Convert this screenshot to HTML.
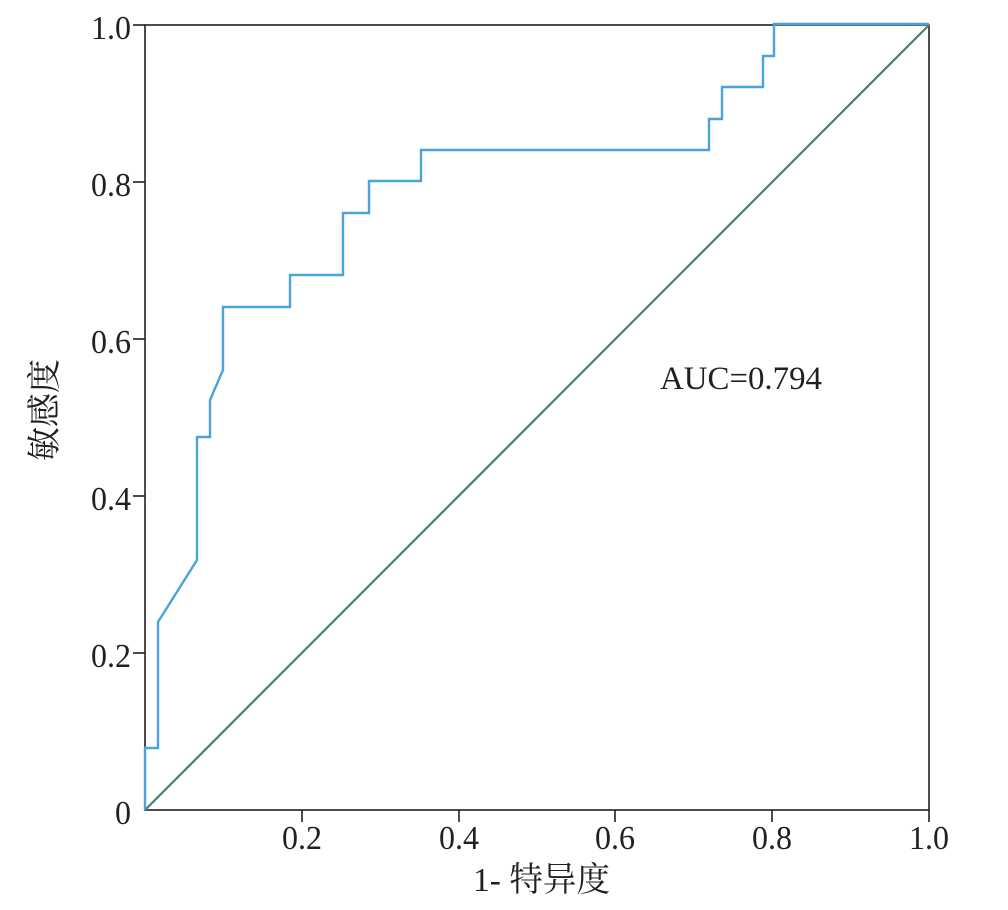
<!DOCTYPE html>
<html><head><meta charset="utf-8"><style>
html,body{margin:0;padding:0;background:#fff;}
svg{display:block;}
text{font-family:"Liberation Serif","Noto Serif CJK SC",serif;fill:#231f20;}
</style></head><body>
<svg width="1008" height="910" viewBox="0 0 1008 910" xmlns="http://www.w3.org/2000/svg">
<rect width="1008" height="910" fill="#fff"/>
<rect x="145" y="25" width="784" height="785" fill="none" stroke="#231f20" stroke-width="1.6"/>
<g stroke="#231f20" stroke-width="1.6">
<line x1="133" y1="25" x2="145" y2="25"/>
<line x1="133" y1="182" x2="145" y2="182"/>
<line x1="133" y1="339" x2="145" y2="339"/>
<line x1="133" y1="496" x2="145" y2="496"/>
<line x1="133" y1="653" x2="145" y2="653"/>
<line x1="302" y1="810" x2="302" y2="822"/>
<line x1="459" y1="810" x2="459" y2="822"/>
<line x1="615" y1="810" x2="615" y2="822"/>
<line x1="772" y1="810" x2="772" y2="822"/>
<line x1="929" y1="810" x2="929" y2="822"/>
</g>
<g font-size="34">
<text x="91" y="39" textLength="40" lengthAdjust="spacingAndGlyphs">1.0</text>
<text x="91" y="196" textLength="40" lengthAdjust="spacingAndGlyphs">0.8</text>
<text x="91" y="353" textLength="40" lengthAdjust="spacingAndGlyphs">0.6</text>
<text x="91" y="510" textLength="40" lengthAdjust="spacingAndGlyphs">0.4</text>
<text x="91" y="667" textLength="40" lengthAdjust="spacingAndGlyphs">0.2</text>
<text x="115" y="824" textLength="16" lengthAdjust="spacingAndGlyphs">0</text>
<text x="282" y="849" textLength="40" lengthAdjust="spacingAndGlyphs">0.2</text>
<text x="439" y="849" textLength="40" lengthAdjust="spacingAndGlyphs">0.4</text>
<text x="595" y="849" textLength="40" lengthAdjust="spacingAndGlyphs">0.6</text>
<text x="752" y="849" textLength="40" lengthAdjust="spacingAndGlyphs">0.8</text>
<text x="909" y="849" textLength="40" lengthAdjust="spacingAndGlyphs">1.0</text>
</g>
<text x="473" y="891" font-size="34" textLength="137" lengthAdjust="spacingAndGlyphs">1- 特异度</text>
<text transform="translate(56,410) rotate(-90)" font-size="34" text-anchor="middle">敏感度</text>
<text x="660" y="389" font-size="33" textLength="162" lengthAdjust="spacingAndGlyphs">AUC=0.794</text>
<line x1="145" y1="810" x2="929" y2="25" stroke="#4a7d78" stroke-width="2.2"/>
<polyline fill="none" stroke="#4aa3dc" stroke-width="2.4" points="145,810 145,748 158,748 158,622 197,560 197,437 210,437 210,400 223,370 223,307 290,307 290,275 343,275 343,213 369,213 369,181 421,181 421,150 709,150 709,119 722,119 722,87 763,87 763,56 774,56 774,24 929,24"/>
</svg>
</body></html>
